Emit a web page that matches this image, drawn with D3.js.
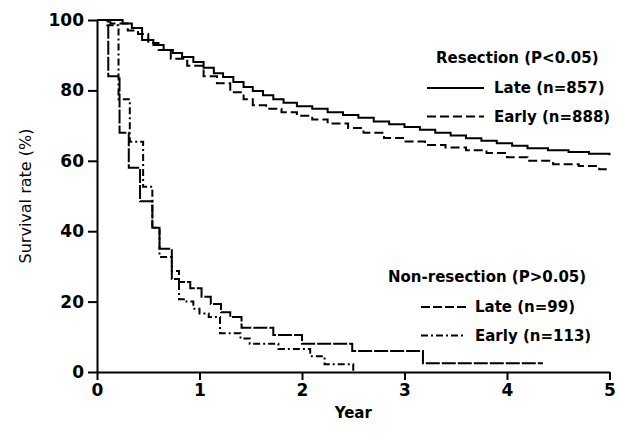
<!DOCTYPE html>
<html>
<head>
<meta charset="utf-8">
<script src="https://cdn.jsdelivr.net/npm/d3@7"></script>
<style>
  body { margin: 0; background: #fff; }
  text { font-family: "DejaVu Sans", "Liberation Sans", Arial, sans-serif; fill: #000; }
</style>
</head>
<body>
<script>
// Kaplan-Meier steps (time in years, survival in %)
const resLateYears = [0, 0.25, 0.34, 0.44, 0.55, 0.65, 0.74, 0.83, 0.94, 1.04, 1.14, 1.23, 1.33, 1.43, 1.52, 1.62, 1.72, 1.82, 1.95, 2.1, 2.25, 2.4, 2.55, 2.7, 2.85, 3.0, 3.15, 3.3, 3.45, 3.6, 3.75, 3.9, 4.05, 4.2, 4.4, 4.6, 4.8, 5.0];
const resLateSurv = [100, 99, 97.7, 94.3, 92.9, 91.5, 90.6, 89.5, 88.1, 86.4, 84.9, 83.8, 82.4, 81, 79.8, 78.6, 77.5, 76.5, 75.5, 74.8, 73.8, 73, 72.2, 71.2, 70.4, 69.6, 68.8, 68, 67.2, 66.4, 65.7, 65, 64.3, 63.6, 63, 62.5, 62, 61.6];

const resEarlyYears = [0, 0.13, 0.3, 0.4, 0.5, 0.6, 0.72, 0.88, 1.04, 1.17, 1.3, 1.43, 1.52, 1.65, 1.8, 1.95, 2.1, 2.25, 2.45, 2.6, 2.8, 3.0, 3.2, 3.4, 3.6, 3.8, 4.0, 4.2, 4.45, 4.7, 4.9, 5.0];
const resEarlySurv = [100, 99, 97, 96, 93.5, 91.5, 89, 87, 84, 82, 79.5, 77.5, 75.8, 74.8, 73.8, 72.8, 71.7, 70.6, 69.3, 68, 66.5, 65.5, 64.5, 63.8, 63, 62.2, 61, 60, 59, 58.5, 57.6, 57.4];

const nonLateYears = [0, 0.11, 0.22, 0.31, 0.42, 0.54, 0.61, 0.73, 0.8, 0.91, 1.02, 1.11, 1.21, 1.3, 1.41, 1.72, 2.0, 2.49, 3.18, 4.35];
const nonLateSurv = [100, 84, 68, 58, 48.5, 41, 35, 26.4, 25.6, 23.8, 21.4, 19.3, 17, 15.6, 12.6, 10.5, 8, 6, 2.5, 2.5];

const nonEarlyYears = [0, 0.1, 0.21, 0.32, 0.45, 0.54, 0.61, 0.73, 0.8, 0.86, 0.94, 1.0, 1.09, 1.2, 1.4, 1.49, 1.77, 2.08, 2.22, 2.5];
const nonEarlySurv = [100, 98.5, 77.5, 65.4, 52.6, 41, 32.7, 28.7, 20.7, 20, 18, 16.6, 15.6, 11, 9.5, 8, 6.5, 4.5, 2.2, 0];

const xTicks = [0, 1, 2, 3, 4, 5];
const yTicks = [0, 20, 40, 60, 80, 100];

// Define dimensions
let width = 626;
let height = 439;

let margin = {
  top: 20,
  bottom: 67,
  left: 97,
  right: 16.5,
};

let svg = d3
  .select("body")
  .append("svg")
  .attr("width", width)
  .attr("height", height);

let xScale = d3
  .scaleLinear()
  .domain([0, 5])
  .range([margin.left, width - margin.right]);

let yScale = d3
  .scaleLinear()
  .domain([0, 100])
  .range([height - margin.bottom, margin.top]);

// Curves
let series = [
  { years: resLateYears, surv: resLateSurv, dash: null },
  { years: resEarlyYears, surv: resEarlySurv, dash: "9,4" },
  { years: nonLateYears, surv: nonLateSurv, dash: "14,2" },
  { years: nonEarlyYears, surv: nonEarlySurv, dash: "7,3,2,3" },
];

let line = d3
  .line()
  .x((d) => xScale(d[0]))
  .y((d) => yScale(d[1]))
  .curve(d3.curveStepAfter);

svg
  .selectAll(".km")
  .data(series)
  .join("path")
  .attr("class", "km")
  .attr("d", (s) => line(s.years.map((t, i) => [t, s.surv[i]])))
  .attr("fill", "none")
  .attr("stroke", "#000")
  .attr("stroke-width", 2)
  .attr("stroke-dasharray", (s) => s.dash);

// Axes
let xAxis = svg
  .append("g")
  .attr("transform", `translate(0, ${yScale(0)})`)
  .call(
    d3.axisBottom(xScale).tickValues(xTicks).tickFormat(d3.format("d"))
      .tickSize(8).tickSizeOuter(0).tickPadding(4)
  );

let yAxis = svg
  .append("g")
  .attr("transform", `translate(${xScale(0)}, 0)`)
  .call(
    d3.axisLeft(yScale).tickValues(yTicks).tickFormat(d3.format("d"))
      .tickSize(9).tickSizeOuter(0).tickPadding(4)
  );

[xAxis, yAxis].forEach((g) => {
  g.selectAll("path, line").attr("stroke", "#000").attr("stroke-width", 2);
  g.selectAll("text")
    .style("font-family", "'DejaVu Sans', sans-serif")
    .style("font-size", "17px")
    .style("font-weight", "bold")
    .attr("fill", "#000");
});

// Axis labels
svg
  .append("text")
  .attr("x", xScale(2.5))
  .attr("y", 418)
  .text("Year")
  .style("text-anchor", "middle")
  .style("font-size", "15px")
  .style("font-weight", "bold");

svg
  .append("text")
  .attr("transform", "rotate(-90)")
  .attr("x", -yScale(50))
  .attr("y", 31)
  .text("Survival rate (%)")
  .style("text-anchor", "middle")
  .style("font-size", "16px");

// Legends
function legendBlock(title, tx, ty, items, lx0, lx1, textX) {
  svg
    .append("text")
    .attr("x", tx)
    .attr("y", ty)
    .attr("dy", "0.35em")
    .text(title)
    .style("font-size", "15px")
    .style("font-weight", "bold");
  items.forEach((it, i) => {
    let y = ty + 30 + i * 28.5;
    svg
      .append("line")
      .attr("x1", lx0)
      .attr("x2", lx1)
      .attr("y1", y)
      .attr("y2", y)
      .attr("stroke", "#000")
      .attr("stroke-width", 2)
      .attr("stroke-dasharray", it.dash);
    svg
      .append("text")
      .attr("x", textX)
      .attr("y", y)
      .attr("dy", "0.35em")
      .text(it.label)
      .style("font-size", "15px")
      .style("font-weight", "bold");
  });
}

legendBlock(
  "Resection (P<0.05)", 436, 58,
  [{ label: "Late (n=857)", dash: null }, { label: "Early (n=888)", dash: "9,4" }],
  427, 484, 494
);

legendBlock(
  "Non-resection (P>0.05)", 388, 277,
  [{ label: "Late (n=99)", dash: "9,3" }, { label: "Early (n=113)", dash: "7,3,2,3" }],
  421, 466, 475
);
</script>
</body>
</html>
